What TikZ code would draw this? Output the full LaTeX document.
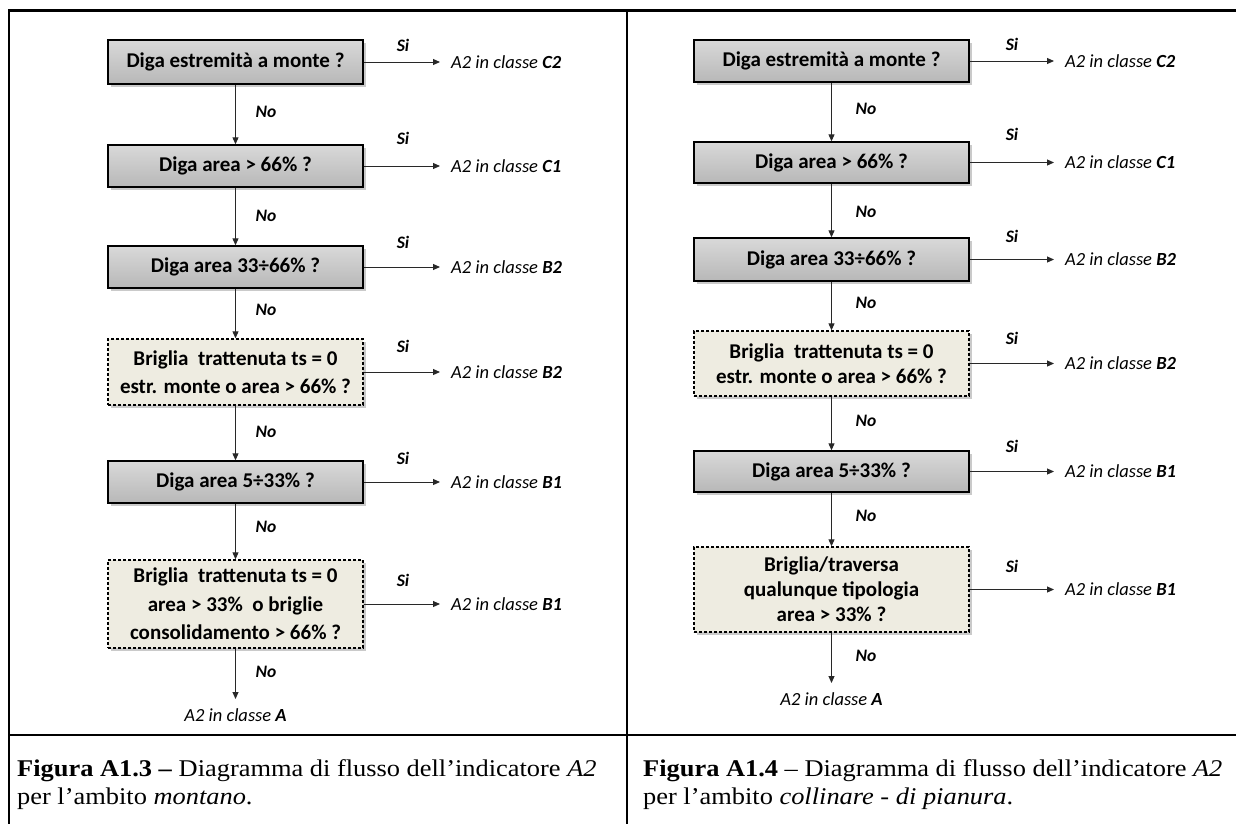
\documentclass[tikz,border=0pt]{standalone}
\usepackage{fontspec}
\setmainfont{Carlito}
\newfontfamily\capfont[FakeStretch=1.1]{Liberation Serif}
\usetikzlibrary{arrows.meta,shadows}
\definecolor{beige}{RGB}{238,236,225}
\definecolor{lineg}{RGB}{40,40,40}
\tikzset{
  qbox/.style={draw=black, line width=1.4pt, minimum width=#1, align=center,
    font=\fontsize{21}{28.5}\selectfont\bfseries, inner sep=0pt,
    drop shadow={shadow xshift=3pt, shadow yshift=-3pt, opacity=0.35, fill=black!60}},
  gbox/.style={qbox=#1, top color=black!15, bottom color=black!28},
  dbox/.style={qbox=#1, dashed, dash pattern=on 3pt off 2pt, fill=beige},
  tight/.style={font=\fontsize{21}{25}\selectfont\bfseries},
  outc/.style={anchor=west, inner xsep=11pt, inner ysep=0pt, font=\fontsize{18.5}{20}\selectfont\itshape},
  endc/.style={anchor=north, inner xsep=0pt, inner ysep=0pt, font=\fontsize{18.5}{20}\selectfont\itshape},
  yn/.style={font=\fontsize{17.5}{19}\selectfont\bfseries\itshape, inner sep=0pt},
  arr/.style={draw=lineg, line width=1pt, -{Triangle[length=7pt,width=6pt]}},
  frame/.style={line width=2.4pt, black},
  captxt/.style={anchor=north west, align=left, inner sep=0pt, font=\capfont\fontsize{24}{28}\selectfont}
}
\begin{document}
\begin{tikzpicture}[x=1pt,y=-1pt]
\useasboundingbox (0,0) rectangle (1236,823);
% frame
\draw[frame] (8,10.5) -- (1237,10.5);
\draw[frame] (9,10) -- (9,824);
\draw[frame] (627,10) -- (627,824);
\draw[frame] (8,735) -- (1237,735);

% ---------- left flowchart ----------
\node[gbox=255pt, minimum height=44pt] (l1) at (235.5,62) {Diga estremità a monte ?};
\node[gbox=255pt, minimum height=42pt] (l2) at (235.5,166) {Diga area > 66\% ?};
\node[gbox=255pt, minimum height=42pt] (l3) at (235.5,267) {Diga area 33÷66\% ?};
\node[dbox=255pt, minimum height=66pt] (l4) at (235.5,372) {Briglia\ \ trattenuta ts = 0\\estr. monte o area > 66\% ?};
\node[gbox=255pt, minimum height=42pt] (l5) at (235.5,482) {Diga area 5÷33\% ?};
\node[dbox=255pt, minimum height=88pt] (l6) at (235.5,604) {Briglia\ \ trattenuta ts = 0\\area > 33\%\ \ o briglie\\consolidamento > 66\% ?};

\node[outc] (lo1) at (440,62) {A2 in classe \textbf{C2}};
\node[outc] (lo2) at (440,166) {A2 in classe \textbf{C1}};
\node[outc] (lo3) at (440,267) {A2 in classe \textbf{B2}};
\node[outc] (lo4) at (440,372) {A2 in classe \textbf{B2}};
\node[outc] (lo5) at (440,482) {A2 in classe \textbf{B1}};
\node[outc] (lo6) at (440,604) {A2 in classe \textbf{B1}};
\node[endc] (lo7) at (235.5,708) {A2 in classe \textbf{A}};

\foreach \i in {1,...,6} {\draw[arr] (l\i.east) -- (lo\i.west);}
\draw[arr] (l1) -- (l2);
\draw[arr] (l2) -- (l3);
\draw[arr] (l3) -- (l4);
\draw[arr] (l4) -- (l5);
\draw[arr] (l5) -- (l6);
\draw[arr] (l6.south) -- ([yshift=9pt]lo7.north);

\node[yn] (ls1) at (403,45) {Si};
\node[yn] (ls2) at (403,138) {Si};
\node[yn] (ls3) at (403,242) {Si};
\node[yn] (ls4) at (403,346) {Si};
\node[yn] (ls5) at (403,458) {Si};
\node[yn] (ls6) at (403,580) {Si};
\node[yn] (ln1) at (266,112) {No};
\node[yn] (ln2) at (266,216) {No};
\node[yn] (ln3) at (266,310) {No};
\node[yn] (ln4) at (266,432) {No};
\node[yn] (ln5) at (266,527) {No};
\node[yn] (ln6) at (266,672) {No};

% ---------- right flowchart ----------
\node[gbox=275pt, minimum height=42pt] (r1) at (831.5,61) {Diga estremità a monte ?};
\node[gbox=275pt, minimum height=41pt] (r2) at (831.5,162.5) {Diga area > 66\% ?};
\node[gbox=275pt, minimum height=43pt] (r3) at (831.5,259.5) {Diga area 33÷66\% ?};
\node[dbox=275pt, tight, minimum height=65pt] (r4) at (831.5,363.5) {Briglia\ \ trattenuta ts = 0\\estr. monte o area > 66\% ?};
\node[gbox=275pt, minimum height=41pt] (r5) at (831.5,471.5) {Diga area 5÷33\% ?};
\node[dbox=275pt, tight, minimum height=85pt] (r6) at (831.5,589.5) {Briglia/traversa\\qualunque tipologia\\area > 33\% ?};

\node[outc] (ro1) at (1054,61) {A2 in classe \textbf{C2}};
\node[outc] (ro2) at (1054,162.5) {A2 in classe \textbf{C1}};
\node[outc] (ro3) at (1054,259.5) {A2 in classe \textbf{B2}};
\node[outc] (ro4) at (1054,363.5) {A2 in classe \textbf{B2}};
\node[outc] (ro5) at (1054,471.5) {A2 in classe \textbf{B1}};
\node[outc] (ro6) at (1054,589.5) {A2 in classe \textbf{B1}};
\node[endc] (ro7) at (831.5,692) {A2 in classe \textbf{A}};

\foreach \i in {1,...,6} {\draw[arr] (r\i.east) -- (ro\i.west);}
\draw[arr] (r1) -- (r2);
\draw[arr] (r2) -- (r3);
\draw[arr] (r3) -- (r4);
\draw[arr] (r4) -- (r5);
\draw[arr] (r5) -- (r6);
\draw[arr] (r6.south) -- ([yshift=9pt]ro7.north);

\node[yn] (rs1) at (1012,44) {Si};
\node[yn] (rs2) at (1012,134) {Si};
\node[yn] (rs3) at (1012,236) {Si};
\node[yn] (rs4) at (1012,338) {Si};
\node[yn] (rs5) at (1012,446) {Si};
\node[yn] (rs6) at (1012,566) {Si};
\node[yn] (rn1) at (866,109) {No};
\node[yn] (rn2) at (866,212) {No};
\node[yn] (rn3) at (866,303) {No};
\node[yn] (rn4) at (866,421) {No};
\node[yn] (rn5) at (866,516) {No};
\node[yn] (rn6) at (866,656) {No};

% ---------- captions ----------
\node[captxt] (c1) at (17,759) {\textbf{Figura A1.3 –} Diagramma di flusso dell’indicatore \textit{A2}\\per l’ambito \textit{montano}.};
\node[captxt] (c2) at (643,759) {\textbf{Figura A1.4} – Diagramma di flusso dell’indicatore \textit{A2}\\per l’ambito \textit{collinare - di pianura}.};
\end{tikzpicture}
\end{document}
